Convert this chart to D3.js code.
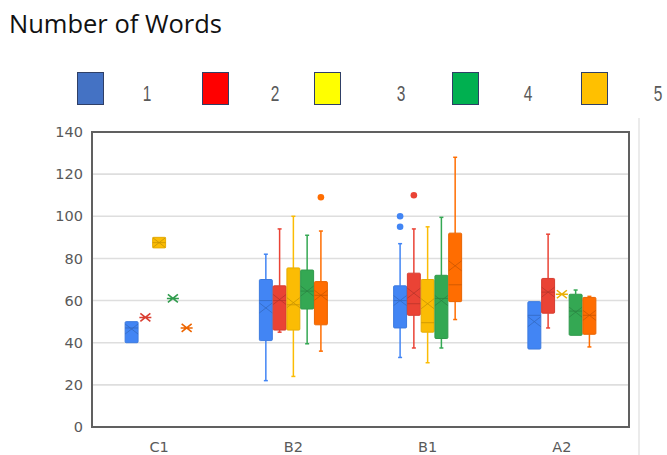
<!DOCTYPE html>
<html>
<head>
<meta charset="utf-8">
<script src="https://cdn.jsdelivr.net/npm/d3@7"></script>
<style>
	body { margin: 0; background: #fff; }
	svg { display: block; }
</style>
</head>
<body>
<div id="chart"></div>
<script>
'use strict';

// DATA
var categories = ['C1', 'B2', 'B1', 'A2'];
var seriesNames = ['1', '2', '3', '4', '5'];
var yTicks = [0, 20, 40, 60, 80, 100, 120, 140];

// one row per category: [low whisker, q1, median, q3, high whisker, mean]
var series1 = [[40, 40, 47, 50, 50, 46.5], [22, 41, 60, 70, 82, 56.5], [33, 47, 60, 67, 87, 60], [37, 37, 53, 59.5, 59.5, 50]];
var series2 = [[52, 52, 52, 52, 52, 52], [45, 46, 60, 67, 94, 60.5], [37.5, 53, 58.5, 73, 94, 63.5], [47, 54, 64, 70.5, 91.5, 64]];
var series3 = [[85, 85, 87.5, 90, 90, 87.5], [24, 46, 58, 75.5, 100, 59], [30.5, 45, 49.5, 70, 95, 58.5], [63, 63, 63, 63, 63, 63]];
var series4 = [[61, 61, 61, 61, 61, 61], [39.5, 56, 64.5, 74.5, 91, 64.5], [37.5, 42, 61, 72, 99.5, 60], [43.5, 43.5, 55, 63, 65, 54.5]];
var series5 = [[47, 47, 47, 47, 47, 47], [36, 48.5, 62.5, 69, 93, 62.5], [51, 59.5, 67.5, 92, 128, 76.5], [38, 44, 53, 61.5, 62, 53]];

// outliers per series, per category
var outliers1 = [[], [], [100, 95], []];
var outliers2 = [[], [], [110], []];
var outliers3 = [[], [], [], []];
var outliers4 = [[], [], [], []];
var outliers5 = [[], [109], [], []];

var allSeries = [series1, series2, series3, series4, series5];
var allOutliers = [outliers1, outliers2, outliers3, outliers4, outliers5];

// STYLE
var boxColors = ['#4285f4', '#ea4335', '#fbbc04', '#34a853', '#ff6d01'];
var legendColors = ['#4472c4', '#ff0000', '#ffff00', '#00b050', '#ffc000'];
var legendSwatchX = [77, 202, 314, 452, 581];
var legendLabelX = [147, 275, 401, 528, 658];

var width = 667;
var height = 455;
var margin = {top: 132, right: 38, bottom: 28, left: 92};

var svg = d3.select('#chart').append('svg')
	.attr('width', width)
	.attr('height', height);

// TITLE
svg.append('text')
	.attr('x', 9)
	.attr('y', 33)
	.style('font-family', '"Open Sans", sans-serif')
	.style('font-size', '25.5px')
	.attr('fill', '#111')
	.text('Number of Words');

// LEGEND
var legend = svg.append('g').attr('class', 'legend');
seriesNames.forEach(function(name, i){
	legend.append('rect')
		.attr('x', legendSwatchX[i] + 0.5)
		.attr('y', 72.5)
		.attr('width', 26)
		.attr('height', 32)
		.attr('fill', legendColors[i])
		.attr('stroke', '#2f3f66')
		.attr('stroke-width', 1);
	// narrow digits, squeezed horizontally
	legend.append('text')
		.attr('transform', 'translate(' + legendLabelX[i] + ',100.5) scale(0.72,1)')
		.attr('text-anchor', 'middle')
		.style('font-family', '"Liberation Sans", Arial, sans-serif')
		.style('font-size', '21.5px')
		.attr('fill', '#595959')
		.text(name);
});

// outer chart border (only the right edge shows)
svg.append('line')
	.attr('x1', 639).attr('x2', 639)
	.attr('y1', 118).attr('y2', height)
	.attr('stroke', '#ebebeb')
	.attr('stroke-width', 2);

// SCALES
var x0 = d3.scaleBand()
	.domain(categories)
	.range([margin.left, width - margin.right]);

var x1 = d3.scaleBand()
	.domain(seriesNames)
	.range([-34, 34])
	.paddingInner(0.06);

var y = d3.scaleLinear()
	.domain([0, 140])
	.range([height - margin.bottom, margin.top]);

// GRID
svg.append('g')
	.attr('class', 'grid')
	.selectAll('line')
	.data(yTicks.slice(1, -1))
	.enter().append('line')
		.attr('x1', margin.left)
		.attr('x2', width - margin.right)
		.attr('y1', function(d){ return y(d); })
		.attr('y2', function(d){ return y(d); })
		.attr('stroke', '#dedede')
		.attr('stroke-width', 1.6);

// AXES
var yAxis = d3.axisLeft(y).tickValues(yTicks).tickSize(0).tickPadding(9);
var xAxis = d3.axisBottom(x0).tickSize(0).tickPadding(15);

var gy = svg.append('g')
	.attr('transform', 'translate(' + margin.left + ',0)')
	.call(yAxis);
var gx = svg.append('g')
	.attr('transform', 'translate(0,' + (height - margin.bottom) + ')')
	.call(xAxis);

[gy, gx].forEach(function(g){
	g.select('.domain').remove();
	g.selectAll('text')
		.style('font-family', '"DejaVu Sans", Verdana, sans-serif')
		.style('font-size', '14.5px')
		.attr('fill', '#595959');
});

// plot frame
svg.append('rect')
	.attr('x', margin.left)
	.attr('y', margin.top)
	.attr('width', width - margin.right - margin.left)
	.attr('height', height - margin.bottom - margin.top)
	.attr('fill', 'none')
	.attr('stroke', '#606060')
	.attr('stroke-width', 2);

///////////////////////////////////////////
////////////////// BOXES //////////////////
///////////////////////////////////////////
var boxW = x1.bandwidth();

allSeries.forEach(function(rows, s){
	var color = boxColors[s];
	var dark = d3.color(color).darker(0.7).formatHex();
	var g = svg.append('g').attr('class', 'series s' + s);

	rows.forEach(function(d, c){
		var cx = x0(categories[c]) + x0.bandwidth() / 2 + x1(seriesNames[s]) + boxW / 2;
		var lo = d[0], q1 = d[1], med = d[2], q3 = d[3], hi = d[4], mean = d[5];

		// whiskers
		if (hi > q3) {
			g.append('line')
				.attr('x1', cx).attr('x2', cx)
				.attr('y1', y(hi)).attr('y2', y(q3))
				.attr('stroke', color).attr('stroke-width', 1.5);
			g.append('line')
				.attr('x1', cx - 2).attr('x2', cx + 2)
				.attr('y1', y(hi)).attr('y2', y(hi))
				.attr('stroke', color).attr('stroke-width', 1.5);
		}
		if (lo < q1) {
			g.append('line')
				.attr('x1', cx).attr('x2', cx)
				.attr('y1', y(q1)).attr('y2', y(lo))
				.attr('stroke', color).attr('stroke-width', 1.5);
			g.append('line')
				.attr('x1', cx - 2).attr('x2', cx + 2)
				.attr('y1', y(lo)).attr('y2', y(lo))
				.attr('stroke', color).attr('stroke-width', 1.5);
		}

		if (q3 > q1) {
			// box
			g.append('rect')
				.attr('x', cx - boxW / 2)
				.attr('y', y(q3))
				.attr('width', boxW)
				.attr('height', y(q1) - y(q3))
				.attr('rx', 1)
				.attr('fill', color)
				.attr('stroke', d3.color(color).darker(0.25).formatHex())
				.attr('stroke-width', 1);
			// median
			g.append('line')
				.attr('x1', cx - boxW / 2).attr('x2', cx + boxW / 2)
				.attr('y1', y(med)).attr('y2', y(med))
				.attr('stroke', dark).attr('stroke-width', 1).attr('opacity', 0.75);
			// mean marker
			g.append('path')
				.attr('d', 'M' + (cx - boxW / 2) + ',' + (y(mean) - 5) + 'L' + (cx + boxW / 2) + ',' + (y(mean) + 5) +
					'M' + (cx - boxW / 2) + ',' + (y(mean) + 5) + 'L' + (cx + boxW / 2) + ',' + (y(mean) - 5))
				.attr('stroke', dark).attr('stroke-width', 1).attr('fill', 'none').attr('opacity', 0.75);
		} else {
			// single value -> asterisk
			g.append('path')
				.attr('d', 'M' + (cx - 6) + ',' + y(mean) + 'L' + (cx + 6) + ',' + y(mean) +
					'M' + (cx - 5) + ',' + (y(mean) - 4) + 'L' + (cx + 5) + ',' + (y(mean) + 4) +
					'M' + (cx - 5) + ',' + (y(mean) + 4) + 'L' + (cx + 5) + ',' + (y(mean) - 4))
				.attr('stroke', d3.color(color).darker(0.2).formatHex())
				.attr('stroke-width', 1.6)
				.attr('fill', 'none');
		}

		// outliers
		allOutliers[s][c].forEach(function(v){
			g.append('circle')
				.attr('cx', cx)
				.attr('cy', y(v))
				.attr('r', 3.3)
				.attr('fill', color);
		});
	});
});
</script>
</body>
</html>
